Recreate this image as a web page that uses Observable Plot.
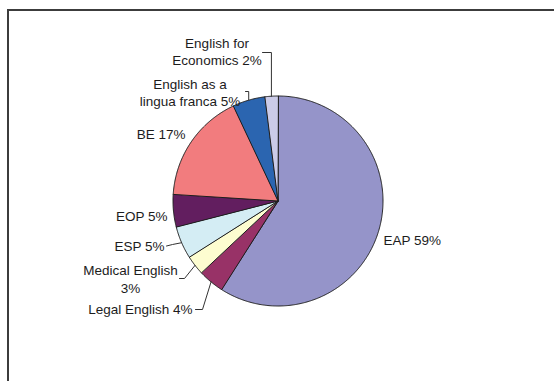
<!DOCTYPE html>
<html><head><meta charset="utf-8">
<script src="https://cdn.jsdelivr.net/npm/d3@7"></script>
<script src="https://cdn.jsdelivr.net/npm/@observablehq/plot@0.6"></script>
<style>
html,body{margin:0;padding:0;background:#fff;overflow:hidden;width:554px;height:381px;}
#wrap{position:relative;width:554px;height:381px;overflow:hidden;}
#chart{position:absolute;left:0;top:0;}
#border{position:absolute;left:7px;top:9px;width:600px;height:420px;border-left:2px solid #3c3c3c;border-top:2px solid #3c3c3c;box-sizing:border-box;pointer-events:none;}
</style></head><body>
<div id="wrap"><div id="chart"></div><div id="border"></div></div>
<script>
// ---- data ----
const categories = ["EAP","Legal English","Medical English","ESP","EOP","BE","English as a lingua franca","English for Economics"];
const shares = [59,4,3,5,5,17,5,2];
const displayNames = ["EAP","Legal English","Medical English\n","ESP","EOP","BE","English as a\nlingua franca","English for\nEconomics"];
const sliceColors = ["#9594c9","#983267","#fdfdd0","#d4edf4","#621e5f","#f27c7e","#2b65b0","#cbcbe8"];

// ---- layout (pixels) ----
const W = 554, H = 381;
const cx = 277.5, cy = 200.5, R = 105;
const labelLayout = [
  {x:383, y:239, anchor:"start"},
  {x:192, y:308, anchor:"end"},
  {x:130, y:278, anchor:"middle"},
  {x:164, y:245, anchor:"end"},
  {x:167, y:215, anchor:"end"},
  {x:185, y:133, anchor:"end"},
  {x:189.5, y:91.5, anchor:"middle"},
  {x:216.5, y:50.5, anchor:"middle"}
];
// leader line start + elbow (null = no leader); end is the slice's mid-arc point
const leaderLayout = [
  null,
  [[195,309],[202,309]],
  [[179,278],[184,278]],
  [[166,245.5],[172,244]],
  null,
  null,
  [[245,91],"v"],
  [[262,52],"v"]
];

// ---- geometry from data ----
const total = d3.sum(shares);
let acc = 0;
const slices = categories.map((name,i) => {
  const a0 = acc/total*2*Math.PI; acc += shares[i];
  const a1 = acc/total*2*Math.PI;
  return {name, i, a0, a1, mid:(a0+a1)/2};
});
const pt = (a, r) => [cx + r*Math.sin(a), cy - r*Math.cos(a)];
const polys = [];
for (const s of slices) {
  polys.push({name:s.name, x:cx, y:cy});
  const n = Math.max(2, Math.ceil((s.a1-s.a0)/(Math.PI/360)));
  for (let k=0;k<=n;k++) {
    const [x,y] = pt(s.a0 + (s.a1-s.a0)*k/n, R);
    polys.push({name:s.name, x, y});
  }
}
const labels = slices.map((s,i) => ({
  text: displayNames[i] + (displayNames[i].endsWith("\n") ? "" : " ") + shares[i] + "%",
  x: labelLayout[i].x, y: labelLayout[i].y, anchor: labelLayout[i].anchor
}));
const leaders = [];
slices.forEach((s,i) => {
  const L = leaderLayout[i]; if (!L) return;
  const end = pt(s.mid, R);
  let pts;
  if (L[1] === "v") { const y0 = L[0][1]; pts = [[L[0][0], y0],[end[0], y0], end]; }
  else pts = [L[0], L[1], end];
  pts.forEach(p => leaders.push({id:i, x:p[0], y:p[1]}));
});

const FS = 13.5;
const chart = Plot.plot({
  width: W, height: H,
  margin: 0,
  x: {domain:[0,W], range:[0,W], axis:null},
  y: {domain:[0,H], range:[0,H], axis:null},
  color: {domain: categories, range: sliceColors},
  style: {fontFamily:"'Liberation Sans', Arial, sans-serif", fontSize:"13.5px", background:"transparent"},
  marks: [
    Plot.line(polys, {x:"x", y:"y", z:"name", fill:"name", stroke:"#1e1e1e", strokeWidth:1, curve:"linear-closed"}),
    Plot.line(leaders, {x:"x", y:"y", z:"id", stroke:"#333", strokeWidth:1}),
    Plot.text(labels.filter(d=>d.anchor==="start"), {x:"x", y:"y", text:"text", textAnchor:"start", fill:"#1c1c1c", fontSize:FS, lineHeight:1.28}),
    Plot.text(labels.filter(d=>d.anchor==="end"), {x:"x", y:"y", text:"text", textAnchor:"end", fill:"#1c1c1c", fontSize:FS, lineHeight:1.28}),
    Plot.text(labels.filter(d=>d.anchor==="middle"), {x:"x", y:"y", text:"text", textAnchor:"middle", fill:"#1c1c1c", fontSize:FS, lineHeight:1.28})
  ]
});
document.getElementById("chart").appendChild(chart);
</script>
</body></html>
